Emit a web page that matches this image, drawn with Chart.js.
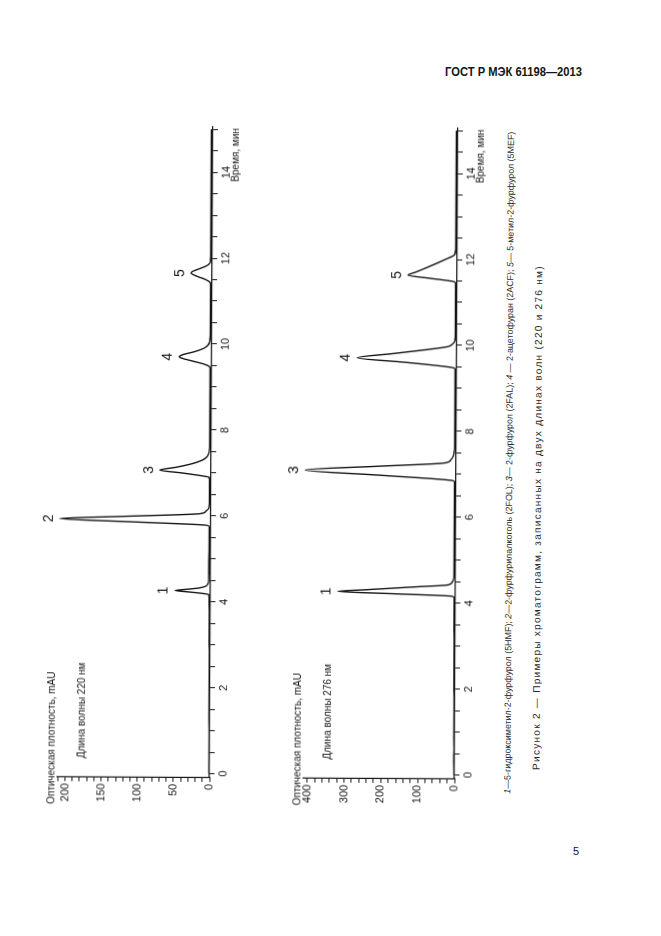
<!DOCTYPE html>
<html lang="ru">
<head>
<meta charset="utf-8">
<title>Хроматограммы 220 и 276 нм</title>
<script src="https://cdn.jsdelivr.net/npm/chart.js@4.4.1/dist/chart.umd.min.js"></script>
<style>
  html, body { margin: 0; padding: 0; background: #fff; }
  body { width: 661px; height: 936px; position: relative; overflow: hidden;
         font-family: "Liberation Sans", Arial, sans-serif; color: #151515; }
  #header { position: absolute; left: 445px; top: 65px; font-size: 12px; font-weight: bold;
            white-space: nowrap; transform-origin: 0 0; }
  #pageno { position: absolute; left: 573px; top: 845px; font-size: 11px; }
  /* the figure sits sideways on the page */
  #sheet { position: absolute; left: 0; top: 0; width: 936px; height: 661px;
           transform-origin: 0 0; transform: translate(-2.4px, 935px) rotate(-89.69deg); }
  #sheet canvas { position: absolute; left: 0; }
  #c220 { top: 0; }
  #c276 { top: 260px; }
  .cap { position: absolute; white-space: nowrap; transform-origin: 0 0; color: #2a2a2a; }
  #cap1 { left: 144px; top: 503px; font-size: 9px; line-height: 12px; }
  #cap2 { left: 168px; top: 531px; font-size: 10px; line-height: 13px; }
</style>
</head>
<body>
<div id="header">ГОСТ Р МЭК 61198—2013</div>
<div id="pageno">5</div>
<div id="sheet">
  <canvas id="c220" width="936" height="260"></canvas>
  <canvas id="c276" width="936" height="240"></canvas>
  <div class="cap" id="cap1"><i>1</i>—5-гидроксиметил-2-фурфурол (5HMF); <i>2</i>—2-фурфурилалкоголь (2FOL); <i>3</i>— 2-фурфурол (2FAL); <i>4</i> — 2-ацетофуран (2ACF); <i>5</i>— 5-метил-2-фурфурол (5MEF)</div>
  <div class="cap" id="cap2">Рисунок 2 — Примеры хроматограмм, записанных на двух длинах волн (220 и 276 нм)</div>
</div>
<script>
// Retention time, min, and absorbance, mAU, at 220 nm
const time220 = [0, 0.3, 0.6, 1.0, 1.4, 1.8, 2.2, 2.6, 3.0, 3.4, 3.8,
  4.10, 4.17, 4.20, 4.23, 4.26, 4.29, 4.32, 4.36, 4.42, 4.50,
  4.8, 5.2, 5.5,
  5.70, 5.76, 5.79, 5.85, 5.92, 5.98, 6.05, 6.10, 6.18, 6.30,
  6.6,
  6.85, 6.90, 6.93, 7.00, 7.06, 7.13, 7.22, 7.30, 7.38, 7.48, 7.60,
  8.0, 8.5, 9.0,
  9.40, 9.47, 9.53, 9.60, 9.66, 9.70, 9.75, 9.82, 9.90, 9.98, 10.08, 10.20,
  10.6, 11.0,
  11.38, 11.44, 11.50, 11.57, 11.62, 11.65, 11.69, 11.75, 11.82, 11.88, 11.95,
  12.2, 12.6, 13.0, 13.5, 14.0, 14.5, 15.0];
const mau220 = [0.6, 0.8, 0.7, 0.9, 1.0, 1.1, 1.2, 1.2, 1.3, 1.4, 1.5,
  1.8, 2.5, 14, 32, 49, 32, 16, 7, 3.5, 2.6,
  2.4, 2.3, 2.3,
  2.3, 2.6, 12, 105, 209, 119, 15, 7.5, 3.0, 2.3,
  2.2,
  2.2, 3, 12, 42, 71, 48, 25, 12, 5.5, 3, 2.3,
  2.2, 2.1, 2.1,
  2.1, 3, 10, 26, 40, 45, 40, 24, 11, 5, 2.8, 2.2,
  2.1, 2.1,
  2.1, 3, 9, 20, 27, 29, 27, 18, 8, 3.5, 2.4,
  2.1, 2.0, 2.0, 2.0, 2.0, 2.1, 2.3];

// Retention time, min, and absorbance, mAU, at 276 nm
const time276 = [0, 0.3, 0.6, 1.0, 1.4, 1.8, 2.2, 2.6, 3.0, 3.4, 3.8,
  4.05, 4.13, 4.16, 4.21, 4.26, 4.30, 4.34, 4.38, 4.42, 4.48, 4.57, 4.70,
  5.0, 5.5, 6.0, 6.4,
  6.75, 6.83, 6.86, 6.97, 7.08, 7.18, 7.26, 7.33, 7.42, 7.55, 7.70,
  8.0, 8.5, 9.0,
  9.40, 9.47, 9.50, 9.60, 9.70, 9.80, 9.90, 9.97, 10.03, 10.10, 10.20,
  10.6, 11.0,
  11.40, 11.46, 11.49, 11.56, 11.63, 11.70, 11.80, 11.90, 12.02, 12.08, 12.13, 12.25,
  12.6, 13.0, 13.5, 14.0, 14.5, 15.0];
const mau276 = [1.5, 2, 1.8, 2.2, 2.4, 2.5, 2.8, 2.8, 3, 3.2, 3.4,
  3.6, 3.8, 9, 165, 319, 245, 171, 97, 23, 10, 5, 4.2,
  4, 4, 4, 4,
  4, 4.5, 15, 210, 410, 205, 33, 15, 8, 5, 4.2,
  4, 4, 4,
  4, 6, 25, 140, 270, 175, 80, 25, 12, 6, 4.5,
  4.2, 4.1,
  4, 4.5, 12, 75, 133, 113, 85, 58, 27, 12, 6, 4.5,
  4.2, 4.1, 4, 4, 4, 4];

// Peak numbering
const peakNo220 = ['1', '2', '3', '4', '5'];
const peakTime220 = [4.26, 5.92, 7.06, 9.70, 11.65];
const peakMau220 = [49, 209, 71, 45, 29];
const peakNo276 = ['1', '3', '4', '5'];
const peakTime276 = [4.26, 7.08, 9.70, 11.63];
const peakMau276 = [319, 410, 270, 133];

// Tick labels
const timeLabels = [0, 2, 4, 6, 8, 10, 12, 14];
const mauLabels220 = [0, 50, 100, 150, 200];
const mauLabels276 = [0, 100, 200, 300, 400];

const FONT = '"Liberation Sans", Arial, sans-serif';
const INK = '#151515';

const isIn = (list, v) => list.some(l => Math.abs(l - v) < 1e-6);

// Peak numbers, axis titles and wavelength note
const notes = {
  id: 'notes',
  afterDraw(chart, args, o) {
    const { ctx, chartArea: a, scales: { x, y } } = chart;
    ctx.save();
    ctx.fillStyle = INK;
    ctx.textAlign = 'center';
    ctx.textBaseline = 'middle';
    ctx.font = '14px ' + FONT;
    o.peakNo.forEach((n, i) => {
      ctx.fillText(n, x.getPixelForValue(o.peakTime[i]), y.getPixelForValue(o.peakMau[i]) - 11);
    });
    ctx.font = '10px ' + FONT;
    ctx.textAlign = 'left';
    ctx.fillText('Оптическая плотность, mAU', a.left - 27, a.top - 5);
    ctx.fillText(o.wave, a.left + 19, a.top + 25);
    ctx.textAlign = 'right';
    ctx.fillText('Время, мин', a.right - 1, a.bottom + 23);
    ctx.restore();
  }
};

function chromatogram(id, t, v, cfg) {
  const pts = t.map((tt, i) => ({ x: tt, y: v[i] }));
  return new Chart(document.getElementById(id), {
    type: 'line',
    data: { datasets: [{ data: pts, borderColor: '#141414', borderWidth: 1.4,
      pointRadius: 0, fill: false, cubicInterpolationMode: 'monotone' }] },
    options: {
      responsive: false, animation: false, devicePixelRatio: 1,
      layout: { padding: cfg.pad },
      plugins: { legend: { display: false }, tooltip: { enabled: false },
        notes: { peakNo: cfg.peakNo, peakTime: cfg.peakTime, peakMau: cfg.peakMau, wave: cfg.wave } },
      scales: {
        x: {
          type: 'linear', min: -0.1, max: 15.05,
          afterFit(s) { s.height = 30; },
          border: { color: INK, width: 1.2 },
          grid: { drawOnChartArea: false, tickLength: 5, color: INK },
          ticks: { stepSize: 0.5, autoSkip: false, includeBounds: false, maxRotation: 0,
            padding: 2, color: INK, font: { family: FONT, size: 11 },
            callback: val => isIn(timeLabels, val) ? String(Math.round(val)) : '' }
        },
        y: {
          type: 'linear', min: 0, max: cfg.yMax,
          afterFit(s) { s.width = 40; },
          border: { color: INK, width: 1.2 },
          grid: { drawOnChartArea: false, tickLength: 4, color: INK },
          ticks: { stepSize: cfg.yStep, autoSkip: false, includeBounds: false,
            padding: 2, color: INK, font: { family: FONT, size: 11 },
            callback: val => isIn(cfg.yLabels, val) ? String(Math.round(val)) : '' }
        }
      }
    },
    plugins: [notes]
  });
}

chromatogram('c220', time220, mau220, {
  pad: { left: 118.2, right: 127, top: 58.6, bottom: 19 },
  yMax: 211, yStep: 10, yLabels: mauLabels220,
  peakNo: peakNo220, peakTime: peakTime220, peakMau: peakMau220,
  wave: 'Длина волны 220 нм'
});
chromatogram('c276', time276, mau276, {
  pad: { left: 118.2, right: 127, top: 44.3, bottom: 14 },
  yMax: 412, yStep: 20, yLabels: mauLabels276,
  peakNo: peakNo276, peakTime: peakTime276, peakMau: peakMau276,
  wave: 'Длина волны 276 нм'
});

// stretch caption lines to their set widths
function fitWidth(id, w) {
  const el = document.getElementById(id);
  el.style.transform = 'scaleX(' + (w / el.scrollWidth) + ')';
}
function spreadWidth(id, w) {
  const el = document.getElementById(id);
  const n = el.textContent.length;
  el.style.letterSpacing = ((w - el.scrollWidth) / n) + 'px';
}
fitWidth('cap1', 662);
spreadWidth('cap2', 505);
fitWidth('header', 137);
</script>
</body>
</html>
